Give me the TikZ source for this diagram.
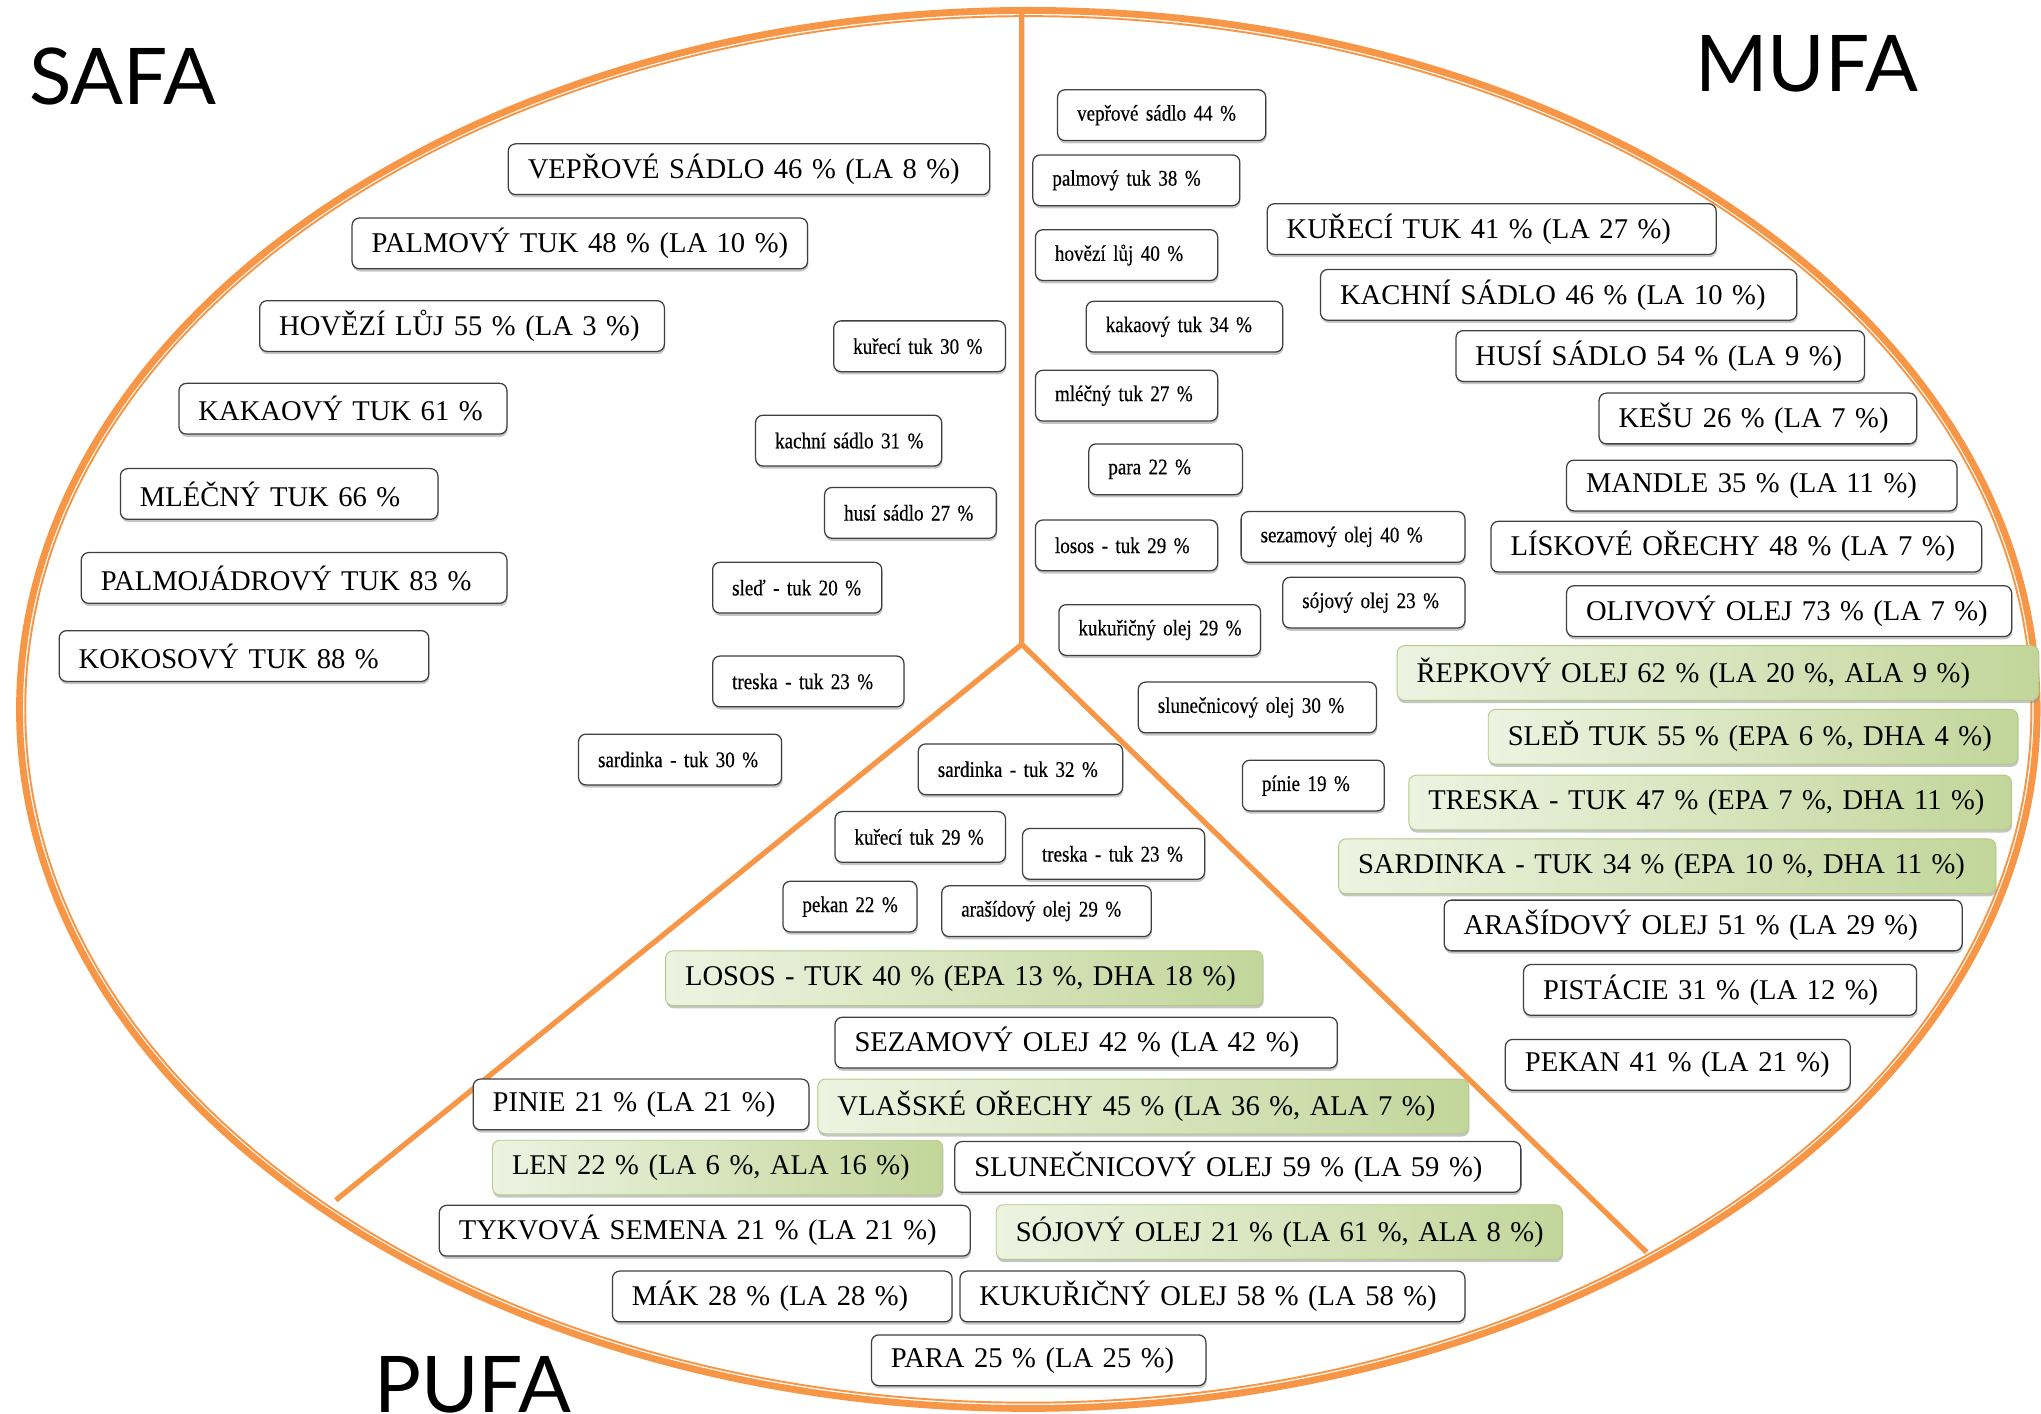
\documentclass[tikz,border=0pt]{standalone}
\usepackage{fontspec}
\setmainfont{Liberation Serif}
\newfontfamily\smallserif[FakeStretch=0.85, FakeBold=0.4]{Liberation Serif}
\newfontfamily\labelsans{Lato}
\usetikzlibrary{shadows}

\definecolor{fatorange}{HTML}{F79646}
\definecolor{greenlight}{HTML}{EDF3E1}
\definecolor{greendark}{HTML}{C2D69A}
\definecolor{greenedge}{HTML}{B3CB86}

\tikzset{
    anybox/.style={anchor=west, rounded corners=3.2pt, inner xsep=0pt, inner ysep=0pt,
        align=left, execute at begin node={\noindent\hspace*{0.3cm}},
        drop shadow={shadow xshift=0.3pt, shadow yshift=-1.2pt, fill=black!45, opacity=0.5}},
    fatbox/.style={anybox, draw=black!75, line width=0.55pt, fill=white, minimum height=0.78cm,
        font=\fontsize{12.5pt}{14pt}\selectfont},
    greenbox/.style={anybox, draw=greenedge, line width=0.4pt, left color=greenlight,
        right color=greendark, minimum height=0.84cm, font=\fontsize{12.5pt}{14pt}\selectfont},
    thinbox/.style={anybox, draw=black!75, line width=0.55pt, fill=white, minimum height=0.78cm,
        font=\smallserif\fontsize{9.8pt}{11pt}\selectfont},
    divider/.style={draw=fatorange, line width=2.3pt},
    grouplabel/.style={anchor=base west, inner sep=0pt, font=\labelsans\fontsize{34.2pt}{40pt}\selectfont}
}

\begin{document}
\begin{tikzpicture}[x=0.02cm, y=-0.02cm]
    \useasboundingbox (0,0) rectangle (1568,1086);

    \draw[fatorange, line width=3pt] (790,545) ellipse [x radius=775, y radius=537];
    \draw[fatorange, line width=0.85pt] (790,545) ellipse [x radius=770.6, y radius=532.6];

    \coordinate (topend) at (785,9);
    \coordinate (hub) at (785,495);
    \coordinate (leftend) at (258,922);
    \coordinate (rightend) at (1265,962);
    \draw[divider] (topend) -- (hub) -- (leftend);
    \draw[divider] (hub) -- (rightend);

    \node[grouplabel] (safa) at (22,80) {SAFA};
    \node[grouplabel] (mufa) at (1302,70) {MUFA};
    \node[grouplabel] (pufa) at (287,1085) {PUFA};

    \node[fatbox, text width=7.40cm] (s1) at (390,130) {VEPŘOVÉ SÁDLO 46 \% (LA 8 \%)};
    \node[fatbox, text width=7.00cm] (s2) at (270,187) {PALMOVÝ TUK 48 \% (LA 10 \%)};
    \node[fatbox, text width=6.22cm] (s3) at (199,250.5) {HOVĚZÍ LŮJ 55 \% (LA 3 \%)};
    \node[fatbox, text width=5.04cm] (s4) at (137,314) {KAKAOVÝ TUK 61 \%};
    \node[fatbox, text width=4.88cm] (s5) at (92,379.5) {MLÉČNÝ TUK 66 \%};
    \node[fatbox, text width=6.54cm] (s6) at (62,444) {PALMOJÁDROVÝ TUK 83 \%};
    \node[fatbox, text width=5.68cm] (s7) at (45,504) {KOKOSOVÝ TUK 88 \%};

    \node[thinbox, text width=2.64cm] (s8) at (640,266) {kuřecí tuk 30 \%};
    \node[thinbox, text width=2.86cm] (s9) at (580,338.5) {kachní sádlo 31 \%};
    \node[thinbox, text width=2.64cm] (s10) at (633,394) {husí sádlo 27 \%};
    \node[thinbox, text width=2.60cm] (s11) at (547,451.5) {sleď - tuk 20 \%};
    \node[thinbox, text width=2.94cm] (s12) at (547,523.5) {treska - tuk 23 \%};
    \node[thinbox, text width=3.12cm] (s13) at (444,583.5) {sardinka - tuk 30 \%};

    \node[thinbox, text width=3.20cm] (m1) at (812,88.5) {vepřové sádlo 44 \%};
    \node[thinbox, text width=3.18cm] (m2) at (793,138.5) {palmový tuk 38 \%};
    \node[thinbox, text width=2.80cm] (m3) at (795,196) {hovězí lůj 40 \%};
    \node[thinbox, text width=3.02cm] (m4) at (834,251) {kakaový tuk 34 \%};
    \node[thinbox, text width=2.80cm] (m5) at (795,304) {mléčný tuk 27 \%};
    \node[thinbox, text width=2.36cm] (m6) at (836,360.5) {para 22 \%};
    \node[thinbox, text width=2.80cm] (m7) at (795,419) {losos - tuk 29 \%};
    \node[thinbox, text width=3.44cm] (m8) at (953,412.5) {sezamový olej 40 \%};
    \node[thinbox, text width=2.80cm] (m9) at (985,463) {sójový olej 23 \%};
    \node[thinbox, text width=3.10cm] (m10) at (813,484) {kukuřičný olej 29 \%};
    \node[thinbox, text width=3.66cm] (m11) at (874,543.5) {slunečnicový olej 30 \%};
    \node[thinbox, text width=2.18cm] (m12) at (954,603.5) {pínie 19 \%};

    \node[fatbox, text width=6.90cm] (m13) at (973,176) {KUŘECÍ TUK 41 \% (LA 27 \%)};
    \node[fatbox, text width=7.32cm] (m14) at (1014,226.5) {KACHNÍ SÁDLO 46 \% (LA 10 \%)};
    \node[fatbox, text width=6.28cm] (m15) at (1118,273.5) {HUSÍ SÁDLO 54 \% (LA 9 \%)};
    \node[fatbox, text width=4.88cm] (m16) at (1228,321.5) {KEŠU 26 \% (LA 7 \%)};
    \node[fatbox, text width=6.00cm] (m17) at (1203,373) {MANDLE 35 \% (LA 11 \%)};
    \node[fatbox, text width=7.54cm] (m18) at (1145,420) {LÍSKOVÉ OŘECHY 48 \% (LA 7 \%)};
    \node[fatbox, text width=6.84cm] (m19) at (1203,469.5) {OLIVOVÝ OLEJ 73 \% (LA 7 \%)};
    \node[greenbox, text width=9.86cm] (m20) at (1073,517) {ŘEPKOVÝ OLEJ 62 \% (LA 20 \%, ALA 9 \%)};
    \node[greenbox, text width=8.14cm] (m21) at (1143,566) {SLEĎ TUK 55 \% (EPA 6 \%, DHA 4 \%)};
    \node[greenbox, text width=9.26cm] (m22) at (1082,616.5) {TRESKA - TUK 47 \% (EPA 7 \%, DHA 11 \%)};
    \node[greenbox, text width=10.10cm] (m23) at (1028,665.5) {SARDINKA - TUK 34 \% (EPA 10 \%, DHA 11 \%)};
    \node[fatbox, text width=7.96cm] (m24) at (1109,711) {ARAŠÍDOVÝ OLEJ 51 \% (LA 29 \%)};
    \node[fatbox, text width=6.04cm] (m25) at (1170,760.5) {PISTÁCIE 31 \% (LA 12 \%)};
    \node[fatbox, text width=5.30cm] (m26) at (1156,818) {PEKAN 41 \% (LA 21 \%)};

    \node[thinbox, text width=3.14cm] (p1) at (705,591) {sardinka - tuk 32 \%};
    \node[thinbox, text width=2.62cm] (p2) at (641,643) {kuřecí tuk 29 \%};
    \node[thinbox, text width=2.80cm] (p3) at (785,656) {treska - tuk 23 \%};
    \node[thinbox, text width=2.06cm] (p4) at (601,696.5) {pekan 22 \%};
    \node[thinbox, text width=3.22cm] (p5) at (723,700) {arašídový olej 29 \%};

    \node[greenbox, text width=9.18cm] (p6) at (511,751.5) {LOSOS - TUK 40 \% (EPA 13 \%, DHA 18 \%)};
    \node[fatbox, text width=7.72cm] (p7) at (641,801) {SEZAMOVÝ OLEJ 42 \% (LA 42 \%)};
    \node[fatbox, text width=5.16cm] (p8) at (363,848.5) {PINIE 21 \% (LA 21 \%)};
    \node[greenbox, text width=10.00cm] (p9) at (628,850) {VLAŠSKÉ OŘECHY 45 \% (LA 36 \%, ALA 7 \%)};
    \node[greenbox, text width=6.92cm] (p10) at (378,897) {LEN 22 \% (LA 6 \%, ALA 16 \%)};
    \node[fatbox, text width=8.70cm] (p11) at (733,896.5) {SLUNEČNICOVÝ OLEJ 59 \% (LA 59 \%)};
    \node[fatbox, text width=8.16cm] (p12) at (337,945.5) {TYKVOVÁ SEMENA 21 \% (LA 21 \%)};
    \node[greenbox, text width=8.70cm] (p13) at (765,946.5) {SÓJOVÝ OLEJ 21 \% (LA 61 \%, ALA 8 \%)};
    \node[fatbox, text width=5.22cm] (p14) at (470,996) {MÁK 28 \% (LA 28 \%)};
    \node[fatbox, text width=7.76cm] (p15) at (737,996) {KUKUŘIČNÝ OLEJ 58 \% (LA 58 \%)};
    \node[fatbox, text width=5.14cm] (p16) at (669,1045) {PARA 25 \% (LA 25 \%)};
\end{tikzpicture}
\end{document}
